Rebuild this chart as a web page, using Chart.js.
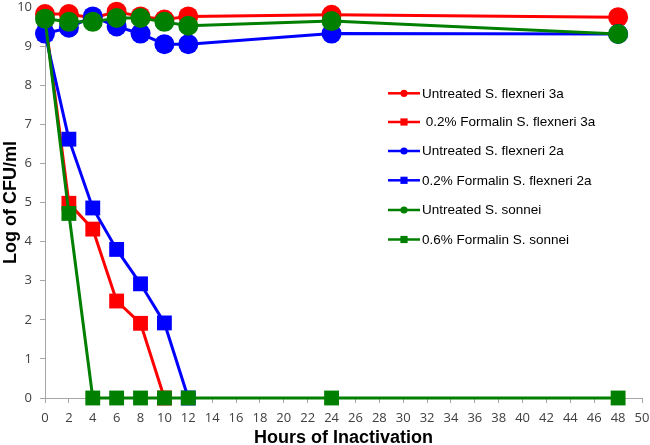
<!DOCTYPE html>
<html>
<head>
<meta charset="utf-8">
<script src="https://cdn.jsdelivr.net/npm/chart.js@4/dist/chart.umd.min.js"></script>
<style>
html,body{margin:0;padding:0;background:#fff;}
#wrap{width:650px;height:445px;position:relative;}
</style>
</head>
<body>
<div id="wrap"><canvas id="c" width="650" height="445"></canvas></div>
<script>
const hours = [0, 2, 4, 6, 8, 10, 12, 24, 48];
const seriesNames = [
  "Untreated S. flexneri 3a",
  " 0.2% Formalin S. flexneri 3a",
  "Untreated S. flexneri 2a",
  "0.2% Formalin S. flexneri 2a",
  "Untreated S. sonnei",
  "0.6% Formalin S. sonnei"
];
const untreated3a = [9.82, 9.82, 9.72, 9.88, 9.76, 9.68, 9.76, 9.8, 9.74];
const formalin3aHours = [0, 2, 4, 6, 8, 10];
const formalin3a = [9.72, 4.98, 4.32, 2.48, 1.91, 0];
const untreated2a = [9.32, 9.47, 9.76, 9.5, 9.32, 9.05, 9.05, 9.32, 9.31];
const formalin2aHours = [0, 2, 4, 6, 8, 10, 12];
const formalin2a = [9.32, 6.62, 4.86, 3.8, 2.92, 1.92, 0];
const untreatedSonnei = [9.7, 9.62, 9.62, 9.72, 9.72, 9.62, 9.52, 9.64, 9.31];
const formalinSonnei = [9.7, 4.72, 0, 0, 0, 0, 0, 0, 0];
const xTicks = [0, 50, 2];
const yTicks = [0, 10, 1];

const RED = '#ff0000', BLUE = '#0000ff', GREEN = '#007f00';
const pts = (xs, ys) => xs.map((x, i) => ({x: x, y: ys[i]}));

function ds(label, data, color, style, order) {
  const circle = style === 'circle';
  return {
    label: label,
    data: data,
    borderColor: color,
    backgroundColor: color,
    borderWidth: 3,
    pointStyle: circle ? 'circle' : 'rect',
    pointRadius: circle ? 10 : 10.5,
    pointBorderWidth: 0,
    pointHoverRadius: circle ? 10 : 10.5,
    tension: 0,
    clip: false,
    order: order
  };
}

const datasets = [
  ds(seriesNames[0], pts(hours, untreated3a), RED, 'circle', 6),
  ds(seriesNames[1], pts(formalin3aHours, formalin3a), RED, 'rect', 5),
  ds(seriesNames[2], pts(hours, untreated2a), BLUE, 'circle', 4),
  ds(seriesNames[3], pts(formalin2aHours, formalin2a), BLUE, 'rect', 3),
  ds(seriesNames[4], pts(hours, untreatedSonnei), GREEN, 'circle', 2),
  ds(seriesNames[5], pts(hours, formalinSonnei), GREEN, 'rect', 1)
];

const legendPlugin = {
  id: 'customLegend',
  afterDraw(chart) {
    const ctx = chart.ctx;
    const x0 = 388, x1 = 420, tx = 422;
    const ys = [93.3, 122, 151, 180.3, 210, 239.5];
    ctx.save();
    chart.data.datasets.forEach((d, i) => {
      const y = ys[i];
      ctx.strokeStyle = d.borderColor;
      ctx.lineWidth = 2.5;
      ctx.beginPath(); ctx.moveTo(x0, y); ctx.lineTo(x1, y); ctx.stroke();
      ctx.fillStyle = d.borderColor;
      const mx = (x0 + x1) / 2;
      if (d.pointStyle === 'circle') {
        ctx.beginPath(); ctx.arc(mx, y, 3.6, 0, Math.PI * 2); ctx.fill();
      } else {
        ctx.fillRect(mx - 3.6, y - 3.6, 7.2, 7.2);
      }
      ctx.fillStyle = '#000';
      ctx.font = '13.5px "Liberation Sans", Arial, sans-serif';
      ctx.textBaseline = 'middle';
      ctx.textAlign = 'left';
      ctx.fillText(d.label, tx, y + 0.5);
    });
    ctx.restore();
  }
};

new Chart(document.getElementById('c'), {
  type: 'line',
  data: { datasets: datasets },
  options: {
    responsive: false,
    animation: false,
    events: [],
    layout: { autoPadding: false, padding: { left: 0, right: 8, top: 7, bottom: 0 } },
    plugins: { legend: { display: false }, tooltip: { enabled: false } },
    scales: {
      x: {
        type: 'linear',
        min: xTicks[0], max: xTicks[1],
        ticks: { stepSize: xTicks[2], color: '#404040', padding: 7,
          font: { family: '"Open Sans", "Liberation Sans", sans-serif', size: 13 } },
        grid: { display: true, drawOnChartArea: false, drawTicks: true, tickLength: 5, color: '#a6a6a6' },
        border: { color: '#a6a6a6', width: 1 },
        title: { display: true, text: 'Hours of Inactivation', color: '#000',
          font: { family: '"Liberation Sans", Arial, sans-serif', size: 18, weight: 'bold' }, padding: { top: 0, bottom: -4 } },
        afterFit(s) { s.height = 47; s.paddingLeft = 0; s.paddingRight = 0; s.paddingTop = 0; s.paddingBottom = 0; }
      },
      y: {
        type: 'linear',
        min: yTicks[0], max: yTicks[1],
        ticks: { stepSize: yTicks[2], color: '#404040', padding: 8,
          font: { family: '"Open Sans", "Liberation Sans", sans-serif', size: 13 } },
        grid: { display: true, drawOnChartArea: false, drawTicks: true, tickLength: 5, color: '#a6a6a6' },
        border: { color: '#a6a6a6', width: 1 },
        title: { display: true, text: 'Log of CFU/ml', color: '#000',
          font: { family: '"Liberation Sans", Arial, sans-serif', size: 18, weight: 'bold' }, padding: { top: 0, bottom: 0 } },
        afterFit(s) { s.width = 45; s.paddingLeft = 0; s.paddingRight = 0; s.paddingTop = 0; s.paddingBottom = 0; }
      }
    }
  },
  plugins: [legendPlugin]
});
</script>
</body>
</html>
